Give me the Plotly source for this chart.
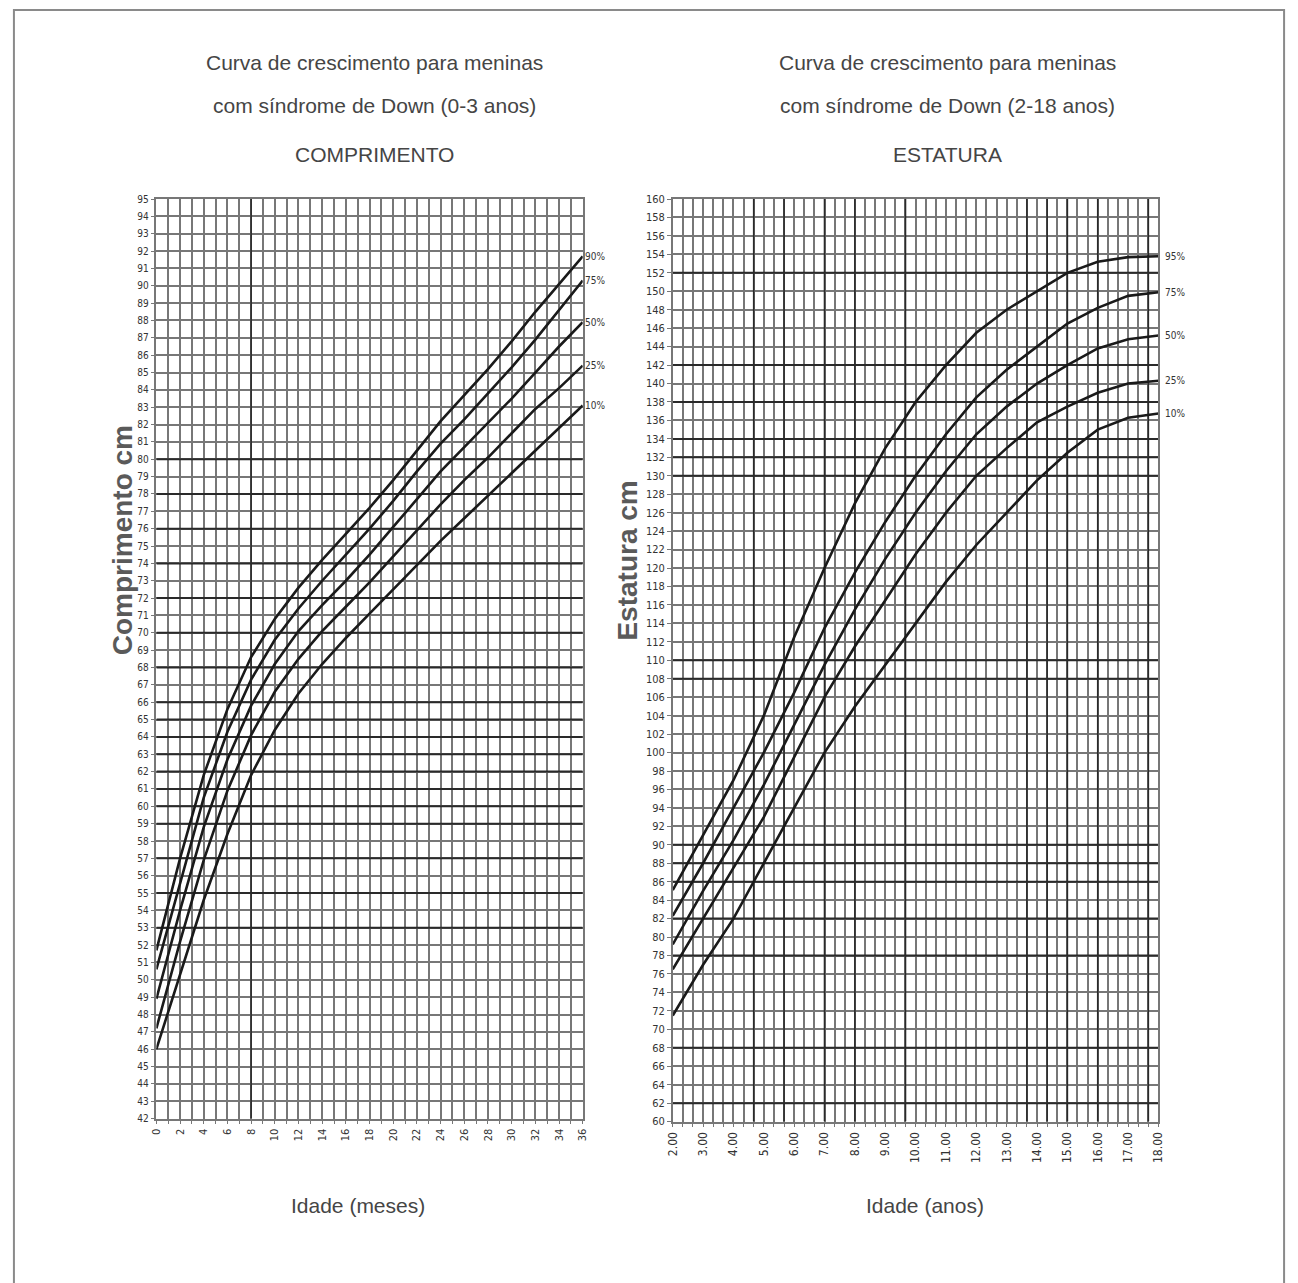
import plotly.graph_objects as go

# ---- Comprimento (0-3 anos) ----
months = [0, 2, 4, 6, 8, 10, 12, 14, 16, 18, 20, 22, 24, 26, 28, 30, 32, 34, 36]
len_p_top = [51.7, 57.0, 61.8, 65.6, 68.6, 70.8, 72.6, 74.2, 75.7, 77.2, 78.8, 80.5, 82.2, 83.7, 85.2, 86.8, 88.5, 90.1, 91.7]
len_p75 = [50.6, 55.6, 60.5, 64.3, 67.3, 69.6, 71.4, 73.0, 74.5, 76.0, 77.6, 79.3, 80.9, 82.3, 83.8, 85.3, 86.9, 88.6, 90.3]
len_p50 = [48.9, 54.0, 58.8, 62.7, 65.8, 68.2, 70.1, 71.6, 73.0, 74.5, 76.1, 77.7, 79.3, 80.7, 82.1, 83.5, 85.0, 86.5, 87.9]
len_p25 = [47.2, 52.2, 56.9, 60.9, 64.1, 66.6, 68.5, 70.1, 71.5, 72.9, 74.4, 75.9, 77.4, 78.8, 80.1, 81.5, 82.9, 84.1, 85.4]
len_p_low = [46.0, 50.3, 54.6, 58.4, 61.8, 64.4, 66.5, 68.2, 69.7, 71.1, 72.5, 73.9, 75.3, 76.6, 77.9, 79.2, 80.5, 81.8, 83.1]
len_labels = ["90%", "75%", "50%", "25%", "10%"]

# ---- Estatura (2-18 anos) ----
ages = [2, 3, 4, 5, 6, 7, 8, 9, 10, 11, 12, 13, 14, 15, 16, 17, 18]
st_p95 = [85.1, 91.0, 97.0, 104.0, 112.5, 120.0, 127.0, 133.0, 138.0, 142.0, 145.5, 148.0, 150.0, 152.0, 153.2, 153.7, 153.8]
st_p75 = [82.3, 88.0, 94.0, 100.0, 106.5, 113.5, 119.5, 125.0, 130.0, 134.5, 138.5, 141.5, 144.0, 146.5, 148.2, 149.5, 149.9]
st_p50 = [79.2, 85.0, 90.5, 96.5, 103.0, 109.5, 115.5, 121.0, 126.0, 130.5, 134.5, 137.5, 140.0, 142.0, 143.8, 144.8, 145.2]
st_p25 = [76.5, 82.0, 87.5, 93.0, 99.5, 106.0, 111.5, 116.5, 121.5, 126.0, 130.0, 133.0, 135.8, 137.5, 139.0, 140.0, 140.3]
st_p10 = [71.5, 77.0, 82.0, 88.0, 94.0, 100.0, 105.0, 109.5, 114.0, 118.5, 122.5, 126.0, 129.5, 132.5, 135.0, 136.3, 136.75]
st_labels = ["95%", "75%", "50%", "25%", "10%"]

# axis tick values
len_yticks = list(range(42, 96))
len_xticks = list(range(0, 37, 2))
st_yticks = list(range(60, 161, 2))
st_xticks = list(range(2, 19))

# darker grid rows/columns (printed chart texture)
len_dark_rows = [53, 55, 57, 59, 60, 61, 62, 63, 64, 65, 66, 68, 70, 72, 74, 76, 78, 80]
len_dark_cols = [8]
st_dark_rows = [62, 68, 78, 82, 86, 88, 90, 108, 110, 130, 132, 134, 138, 142, 152]
st_dark_cols = [4.667, 5.667, 7.0, 8.0, 9.667, 13.667, 14.333, 15.0, 16.0, 17.667]

W, H = 1298, 1283
SANS = "Liberation Sans, Arial, sans-serif"
NARROW = "DejaVu Sans Condensed, Liberation Sans, sans-serif"
GRID = "#777777"
DARK = "#2a2a2a"

def px(x):
    return x / W

def py(y):
    return 1 - y / H

fig = go.Figure()

for vals, lab in zip([len_p_top, len_p75, len_p50, len_p25, len_p_low], len_labels):
    fig.add_trace(go.Scatter(x=months, y=vals, mode="lines", xaxis="x", yaxis="y",
                             line=dict(color="#1a1a1a", width=2.6), showlegend=False, name=lab))
    fig.add_annotation(x=months[-1], y=vals[-1], xref="x", yref="y", text=lab,
                       showarrow=False, xanchor="left", xshift=0,
                       font=dict(family=NARROW, size=10, color="#333"))

for vals, lab in zip([st_p95, st_p75, st_p50, st_p25, st_p10], st_labels):
    fig.add_annotation(x=ages[-1], y=vals[-1], xref="x2", yref="y2", text=lab,
                       showarrow=False, xanchor="left", xshift=5,
                       font=dict(family=NARROW, size=10, color="#333"))
    fig.add_trace(go.Scatter(x=ages, y=vals, mode="lines", xaxis="x2", yaxis="y2",
                             line=dict(color="#1a1a1a", width=2.6), showlegend=False, name=lab))

shapes = []
for v in len_dark_rows:
    shapes.append(dict(type="line", xref="x", yref="y", x0=0, x1=36, y0=v, y1=v,
                       line=dict(color=DARK, width=2), layer="between"))
for v in len_dark_cols:
    shapes.append(dict(type="line", xref="x", yref="y", x0=v, x1=v, y0=42, y1=95,
                       line=dict(color=DARK, width=1.6), layer="between"))
for v in st_dark_rows:
    shapes.append(dict(type="line", xref="x2", yref="y2", x0=2, x1=18, y0=v, y1=v,
                       line=dict(color=DARK, width=2), layer="between"))
for v in st_dark_cols:
    shapes.append(dict(type="line", xref="x2", yref="y2", x0=v, x1=v, y0=60, y1=160,
                       line=dict(color=DARK, width=1.6), layer="between"))
# page frame
shapes.append(dict(type="rect", xref="paper", yref="paper", x0=px(7), x1=px(1291),
                   y0=-0.05, y1=py(4), line=dict(color="#8a8a8a", width=2), layer="below"))

ytickfont = dict(family=NARROW, size=10, color="#333")
common_axis = dict(showgrid=True, gridcolor=GRID, gridwidth=1.5, zeroline=False,
                   showline=True, linecolor=GRID, linewidth=1.5, mirror=True,
                   ticks="outside", ticklen=4, tickcolor=GRID)

fig.update_layout(
    width=W, height=H, margin=dict(l=0, r=0, t=0, b=0),
    paper_bgcolor="white", plot_bgcolor="white", showlegend=False,
    shapes=shapes,
    xaxis=dict(domain=[px(151), px(582)], range=[0, 36], anchor="y",
               tickvals=len_xticks, ticktext=[str(v) for v in len_xticks], tickangle=-90,
               tickfont=dict(family=NARROW, size=11, color="#333"),
               minor=dict(dtick=1, tick0=0, showgrid=True, gridcolor=GRID, gridwidth=1.5,
                          ticks="outside", ticklen=4, tickcolor=GRID),
               **common_axis),
    yaxis=dict(domain=[py(1124), py(195)], range=[42, 95], anchor="x",
               tickvals=len_yticks, ticktext=[str(v) for v in len_yticks],
               tickfont=ytickfont, **common_axis),
    xaxis2=dict(domain=[px(673), px(1164)], range=[2, 18], anchor="y2",
                tickvals=st_xticks, ticktext=[f"{v}.00" for v in st_xticks], tickangle=-90,
                tickfont=dict(family=NARROW, size=12, color="#333"),
                minor=dict(dtick=1 / 3, tick0=2, showgrid=True, gridcolor=GRID, gridwidth=1.5,
                           ticks="outside", ticklen=4, tickcolor=GRID),
                **common_axis),
    yaxis2=dict(domain=[py(1127), py(195)], range=[60, 160], anchor="x2",
                tickvals=st_yticks, ticktext=[str(v) for v in st_yticks],
                tickfont=dict(family=NARROW, size=11, color="#333"), **common_axis),
)

title_font = dict(family=SANS, size=21, color="#454545")
texts = [
    (372, 57, "Curva de crescimento para meninas"),
    (372, 101, "com síndrome de Down (0-3 anos)"),
    (372, 150, "COMPRIMENTO"),
    (951, 57, "Curva de crescimento para meninas"),
    (951, 101, "com síndrome de Down (2-18 anos)"),
    (951, 150, "ESTATURA"),
    (355, 1212, "Idade (meses)"),
    (928, 1212, "Idade (anos)"),
]
for x, y, t in texts:
    fig.add_annotation(x=px(x), y=py(y), xref="paper", yref="paper", text=t, showarrow=False,
                       xanchor="center", yanchor="middle", font=title_font)

ytitle_font = dict(family=SANS, size=28, color="#5a5a5a")
fig.add_annotation(x=px(117), y=py(540), xref="paper", yref="paper", text="<b>Comprimento cm</b>",
                   showarrow=False, textangle=-90, xanchor="center", yanchor="middle", font=ytitle_font)
fig.add_annotation(x=px(627), y=py(560), xref="paper", yref="paper", text="<b>Estatura cm</b>",
                   showarrow=False, textangle=-90, xanchor="center", yanchor="middle", font=ytitle_font)

fig.write_html("out.html")
